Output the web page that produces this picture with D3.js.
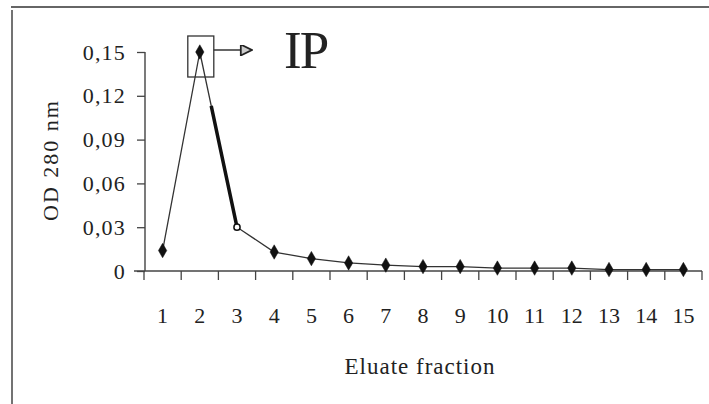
<!DOCTYPE html>
<html>
<head>
<meta charset="utf-8">
<script src="https://cdn.jsdelivr.net/npm/d3@7"></script>
<style>
  body { margin: 0; background: #fff; }
  text { font-family: "Liberation Serif", "DejaVu Serif", serif; fill: #222; }
</style>
</head>
<body>
<svg id="chart"></svg>
<script>
// data
const fractions = ["1", "2", "3", "4", "5", "6", "7", "8", "9", "10", "11", "12", "13", "14", "15"];
const od280 = [0.014, 0.150, 0.030, 0.013, 0.0085, 0.0055, 0.004, 0.003, 0.003, 0.002, 0.002, 0.002, 0.001, 0.001, 0.001];
const yTicks = [0, 0.03, 0.06, 0.09, 0.12, 0.15];

const width = 709;
const height = 404;

const svg = d3.select("#chart")
  .attr("width", width)
  .attr("height", height);

// frame lines of the scanned figure
svg.append("line").attr("x1", 11).attr("x2", width).attr("y1", 7).attr("y2", 7)
  .attr("stroke", "#333").attr("stroke-width", 1.5);
svg.append("line").attr("x1", 12).attr("x2", 12).attr("y1", 10).attr("y2", height)
  .attr("stroke", "#444").attr("stroke-width", 1.5);

// scales
const x = d3.scaleBand().domain(fractions).range([144, 702]);
const y = d3.scaleLinear().domain([0, 0.15]).range([271, 52]);

// y axis
const yAxis = svg.append("g")
  .attr("transform", "translate(145,0)")
  .call(d3.axisLeft(y)
    .tickValues(yTicks)
    .tickSize(8)
    .tickPadding(11)
    .tickFormat(d => d === 0 ? "0" : d3.format(".2f")(d).replace(".", ",")));
yAxis.select(".domain").attr("stroke", "#333").attr("stroke-width", 1.3)
  .attr("d", `M0,${y(0.15)}V${y(0)}`);
yAxis.selectAll(".tick line").attr("stroke", "#444").attr("stroke-width", 1.3);
yAxis.selectAll(".tick text")
  .attr("font-size", 22)
  .attr("letter-spacing", 1.2)
  .attr("font-family", "Liberation Serif")
  .attr("fill", "#222");

// x axis: line, ticks at band edges, labels at band centres
svg.append("line")
  .attr("x1", 134).attr("x2", x.range()[1])
  .attr("y1", y(0)).attr("y2", y(0))
  .attr("stroke", "#444").attr("stroke-width", 1.5);

const edges = fractions.map(d => x(d)).concat([x.range()[1]]);
svg.selectAll(".xtick")
  .data(edges)
  .enter().append("line")
  .attr("class", "xtick")
  .attr("x1", d => d).attr("x2", d => d)
  .attr("y1", y(0)).attr("y2", y(0) + 9)
  .attr("stroke", "#444").attr("stroke-width", 1.3);

svg.selectAll(".xlabel")
  .data(fractions)
  .enter().append("text")
  .attr("class", "xlabel")
  .attr("x", d => x(d) + x.bandwidth() / 2)
  .attr("y", 323)
  .attr("text-anchor", "middle")
  .attr("font-size", 22)
  .text(d => d);

// axis titles
svg.append("text")
  .attr("transform", "translate(58,160) rotate(-90)")
  .attr("text-anchor", "middle")
  .attr("font-size", 22)
  .attr("letter-spacing", 2)
  .text("OD 280 nm");

svg.append("text")
  .attr("x", 420).attr("y", 374)
  .attr("text-anchor", "middle")
  .attr("font-size", 23)
  .attr("letter-spacing", 1)
  .text("Eluate fraction");

// series line
const line = d3.line()
  .x((d, i) => x(fractions[i]) + x.bandwidth() / 2)
  .y(d => y(d));

svg.append("path")
  .datum(od280)
  .attr("fill", "none")
  .attr("stroke", "#333")
  .attr("stroke-width", 1.3)
  .attr("d", line);

// the heavy part of the descending stroke from fraction 2 to 3
svg.append("path")
  .datum(od280.slice(1, 3))
  .attr("fill", "none")
  .attr("stroke", "#111")
  .attr("stroke-width", 3.5)
  .attr("stroke-dasharray", "0,55,200")
  .attr("d", d3.line()
    .x((d, i) => x(fractions[i + 1]) + x.bandwidth() / 2)
    .y(d => y(d)));

// markers
svg.selectAll(".pt")
  .data(od280)
  .enter().append("path")
  .attr("class", "pt")
  .attr("transform", (d, i) => `translate(${x(fractions[i]) + x.bandwidth() / 2},${y(d)})`)
  .attr("d", (d, i) => d3.symbol().type(i === 2 ? d3.symbolCircle : d3.symbolDiamond).size(i === 2 ? 30 : 60)())
  .attr("fill", (d, i) => i === 2 ? "#fff" : "#111")
  .attr("stroke", "#111")
  .attr("stroke-width", (d, i) => i === 2 ? 1.5 : 0.5);

// callout for the peak: box, arrow, label
const peakX = x(fractions[1]) + x.bandwidth() / 2;
const peakY = y(od280[1]);
svg.append("rect")
  .attr("x", peakX - 12).attr("y", peakY - 16)
  .attr("width", 26).attr("height", 41)
  .attr("fill", "none").attr("stroke", "#333").attr("stroke-width", 1.3);

svg.append("defs").append("marker")
  .attr("id", "head")
  .attr("viewBox", "0 0 10 10")
  .attr("refX", 10).attr("refY", 5)
  .attr("markerWidth", 14).attr("markerHeight", 11)
  .attr("markerUnits", "userSpaceOnUse")
  .attr("orient", "auto")
  .append("path")
  .attr("d", "M0,0L10,5L0,10Z")
  .attr("fill", "#ccc").attr("stroke", "#222").attr("stroke-width", 1.6);

svg.append("line")
  .attr("x1", peakX + 14).attr("x2", peakX + 52)
  .attr("y1", peakY - 2).attr("y2", peakY - 2)
  .attr("stroke", "#333").attr("stroke-width", 1.3)
  .attr("marker-end", "url(#head)");

svg.append("text")
  .attr("x", 284).attr("y", 68)
  .attr("font-size", 53)
  .attr("letter-spacing", -2)
  .attr("fill", "#111")
  .text("IP");
</script>
</body>
</html>
